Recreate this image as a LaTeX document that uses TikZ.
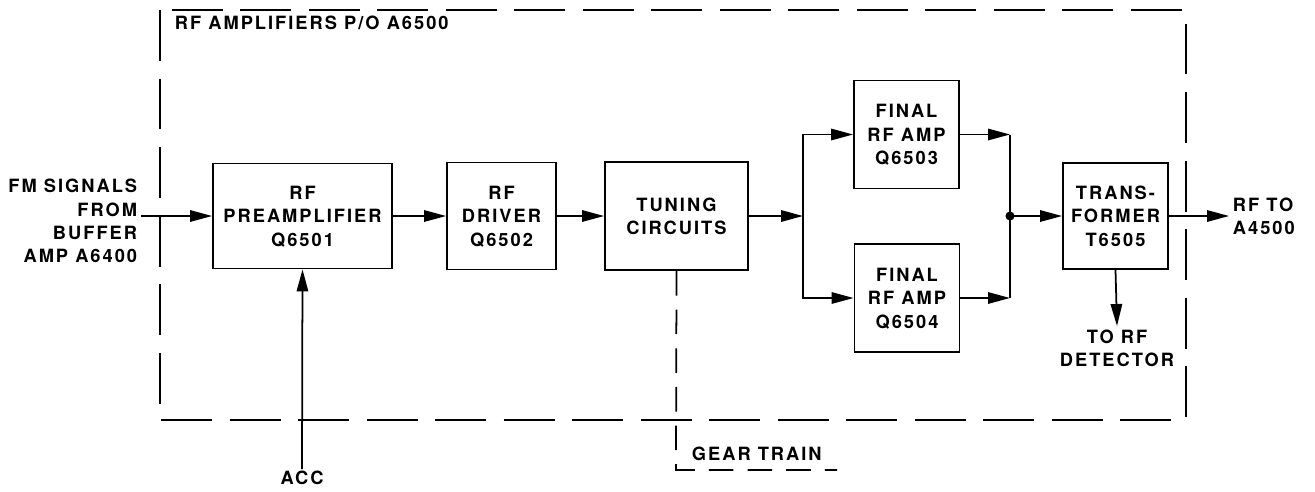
\documentclass[tikz,border=0pt]{standalone}
\usepackage{fontspec}
\setmainfont{TeX Gyre Heros}
\usetikzlibrary{arrows.meta,calc}
\tikzset{
  blk/.style={draw, line width=1.1pt, align=center, inner sep=2pt,
              font=\lbl, text depth=0pt},
  note/.style={inner sep=2pt, font=\lbl},
  flow/.style={-{Triangle[length=12.5pt,width=6.5pt]}, line width=1pt},
  wire/.style={line width=1pt},
  frame/.style={line width=1pt, dash pattern=on 29pt off 10pt},
  geardash/.style={line width=1pt, dash pattern=on 14pt off 8pt},
}
\newcommand{\lbl}{\fontsize{10.4}{13.3}\selectfont\bfseries\addfontfeature{LetterSpace=11}}

\begin{document}
\begin{tikzpicture}[x=0.02cm, y=-0.02cm]
  \useasboundingbox (0,0) rectangle (1315,491);

  % enclosure
  \draw[frame] (160,10) rectangle (1186,420);
  \node[note, anchor=base west] (title) at (171,29) {RF AMPLIFIERS P/O A6500};

  % blocks
  \node[blk, minimum width=3.58cm, minimum height=2.1cm] (pre) at (302.5,216) {RF\\PREAMPLIFIER\\Q6501};
  \node[blk, minimum width=2.18cm, minimum height=2.14cm] (drv) at (501.5,216) {RF\\DRIVER\\Q6502};
  \node[blk, minimum width=2.86cm, minimum height=2.16cm] (tune) at (676.5,216) {TUNING\\CIRCUITS};
  \node[blk, minimum width=2.1cm, minimum height=2.16cm] (fin1) at (906.5,134.5) {FINAL\\RF AMP\\Q6503};
  \node[blk, minimum width=2.1cm, minimum height=2.16cm] (fin2) at (907,298) {FINAL\\RF AMP\\Q6504};
  \node[blk, minimum width=2.1cm, minimum height=2.12cm] (xfmr) at (1115.5,216) {TRANS-\\FORMER\\T6505};

  % outside labels
  \node[note, anchor=east, align=right] (fmsrc) at (141,221) {FM SIGNALS\\FROM\\BUFFER\\AMP A6400};
  \node[note, anchor=north, inner sep=1pt] (acc) at (302,469) {ACC};
  \node[note, anchor=west, align=left] (rfout) at (1229,216) {RF TO\\A4500};
  \node[note, anchor=north, align=center] (det) at (1117,326) {TO RF\\DETECTOR};
  \node[note, anchor=base west] (gear) at (688,460) {GEAR TRAIN};

  \coordinate (split) at (803,216);
  \coordinate (merge) at (1010,216);
  \coordinate (gearcorner) at (676,470);
  \coordinate (gearend) at (837,470);

  % signal path
  \draw[flow] (fmsrc.east |- pre.west) -- (pre.west);
  \draw[flow] (acc.north) -- (pre.south);
  \draw[flow] (pre.east) -- (drv.west);
  \draw[flow] (drv.east) -- (tune.west);
  \draw[flow] (tune.east) -- (split);
  \draw[flow] (split) |- (fin1.west);
  \draw[flow] (split) |- (fin2.west);
  \draw[flow] (fin1.east) -- (fin1.east -| merge);
  \draw[flow] (fin2.east) -- (fin2.east -| merge);
  \draw[wire] (fin1.east -| merge) -- (fin2.east -| merge);
  \fill (merge) circle (2.6pt);
  \draw[flow] (merge) -- (xfmr.west);
  \draw[flow] (xfmr.east) -- (rfout.west);
  \draw[flow] (xfmr.south) -- (det.north);

  % mechanical link
  \draw[geardash] (tune.south) -- (gearcorner) -- (gearend);
\end{tikzpicture}
\end{document}
